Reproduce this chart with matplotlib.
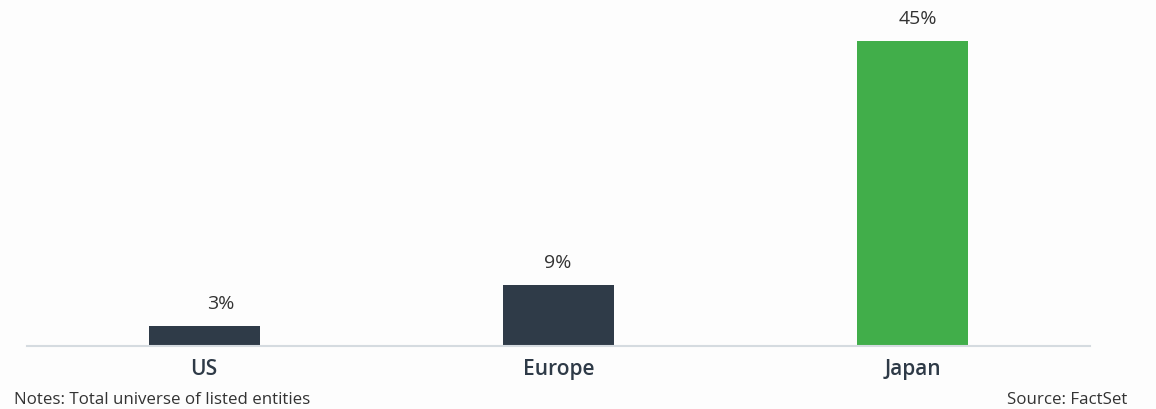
import matplotlib
matplotlib.use("Agg")
import matplotlib.pyplot as plt

# share of listed entities per region
regions = ["US", "Europe", "Japan"]
shares = [3, 9, 45]
bar_colors = ["#2f3b48", "#2f3b48", "#41ae4a"]
label_dx = [17, -1, 5]  # pixel nudge of the value labels

plt.rcParams["font.family"] = ["Open Sans", "DejaVu Sans"]

fig = plt.figure(figsize=(11.56, 4.10), dpi=100, facecolor="#fdfdfd")
ax = fig.add_axes([27 / 1156, 63 / 410, (1090 - 27) / 1156, 347 / 410])
ax.set_facecolor("none")

x = range(len(regions))
ax.bar(x, shares, width=0.313, color=bar_colors, zorder=2)

for i, v in enumerate(shares):
    ax.annotate(f"{v}%", (i, v), xytext=(label_dx[i] * 0.72, 13),
                textcoords="offset points", ha="center", va="baseline",
                fontsize=14, color="#333333")

ax.set_xlim(-0.5, 2.5)
ax.set_ylim(0, 45 * 347 / 305)
ax.set_xticks(list(x))
ax.set_xticklabels(regions, fontsize=15, fontweight="semibold", color="#2e3a47")
ax.tick_params(axis="x", length=0, pad=9)
ax.set_yticks([])
for side in ["top", "right", "left"]:
    ax.spines[side].set_visible(False)
ax.spines["bottom"].set_color("#d5dbe0")
ax.spines["bottom"].set_linewidth(1.5)

fig.text(14 / 1156, 1 - 400 / 410, "Notes: Total universe of listed entities",
         ha="left", va="center", fontsize=12.2, color="#333333")
fig.text(1127 / 1156, 1 - 400 / 410, "Source: FactSet",
         ha="right", va="center", fontsize=12.2, color="#333333")

fig.savefig("out.png", dpi=100, facecolor=fig.get_facecolor())
